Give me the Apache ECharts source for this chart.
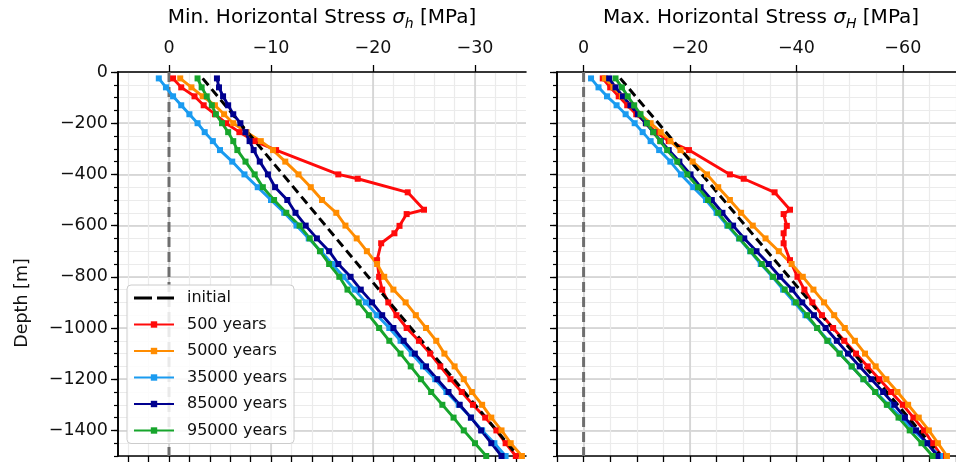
<!DOCTYPE html>
<html>
<head>
<meta charset="utf-8">
<script src="https://cdn.jsdelivr.net/npm/echarts@6/dist/echarts.min.js"></script>
<style>
  html, body { margin: 0; padding: 0; background: #fff; }
  #chart { width: 956px; height: 462px; }
</style>
</head>
<body>
<div id="chart"></div>
<script>
// ---- depth nodes [m] ----
const depths = [-25, -60, -95, -130, -165, -200, -235, -270, -305, -350, -400, -450, -500, -550, -600, -650,
  -700, -750, -800, -850, -900, -950, -1000, -1050, -1100, -1150, -1200, -1250, -1300, -1350, -1400, -1450, -1500];
const depths500 = [-25, -60, -95, -130, -165, -200, -235, -270, -305, -400, -417, -470, -538, -555, -601, -630,
  -669, -735, -800, -850, -900, -950, -1000, -1050, -1100, -1150, -1200, -1250, -1300, -1350, -1400, -1450, -1500];
const initialDepths = [-25, -1500];

// ---- minimum horizontal stress sigma_h [MPa] ----
const shInitial = [-3.3, -34.2];
const sh500 = [-0.4, -1.2, -2.5, -3.4, -4.5, -5.6, -6.9, -8.4, -10.5, -16.6, -18.5, -23.4, -25.0, -23.3, -22.6, -22.1,
  -20.8, -20.4, -20.6, -20.9, -21.5, -22.3, -23.3, -24.5, -25.6, -26.6, -27.6, -28.7, -29.8, -31.0, -32.1, -33.0, -34.0];
const sh5000 = [-1.1, -2.2, -3.3, -4.5, -5.4, -6.3, -7.6, -9.0, -10.2, -11.4, -12.7, -13.9, -15.0, -16.4, -17.3, -18.4,
  -19.4, -20.4, -21.1, -22.0, -23.2, -24.2, -25.2, -26.2, -27.0, -28.0, -28.9, -29.7, -30.7, -31.6, -32.6, -33.5, -34.6];
const sh35000 = [1.0, 0.3, -0.4, -1.2, -2.0, -2.8, -3.5, -4.3, -5.0, -6.2, -7.4, -8.7, -10.0, -11.3, -12.5, -13.7,
  -14.9, -16.0, -17.1, -18.2, -19.3, -20.4, -21.6, -22.7, -23.8, -24.9, -26.1, -27.2, -28.4, -29.6, -30.7, -31.9, -33.0];
const sh85000 = [-4.7, -4.9, -5.3, -5.8, -6.3, -7.0, -7.5, -7.9, -8.3, -8.9, -9.7, -10.4, -11.6, -12.4, -13.4, -14.5,
  -15.7, -16.6, -17.8, -18.8, -19.9, -20.9, -22.0, -23.0, -24.1, -25.2, -26.3, -27.4, -28.5, -29.6, -30.6, -31.6, -32.6];
const sh95000 = [-2.8, -3.2, -3.7, -4.2, -4.6, -5.2, -5.8, -6.3, -6.7, -7.5, -8.4, -9.2, -10.3, -11.5, -12.8, -13.8,
  -14.8, -15.7, -16.7, -17.5, -18.6, -19.6, -20.6, -21.6, -22.7, -23.7, -24.7, -25.7, -26.8, -27.9, -28.9, -30.0, -31.1];

// ---- maximum horizontal stress sigma_H [MPa] ----
const sHInitial = [-6.9, -67.2];
const sH500 = [-3.6, -5.0, -6.6, -8.2, -9.9, -11.8, -13.6, -16.0, -19.8, -27.5, -30.1, -35.9, -38.8, -37.6, -38.2, -37.6,
  -37.6, -38.8, -40.2, -41.5, -43.0, -44.8, -46.9, -49.0, -51.2, -53.4, -55.6, -57.8, -60.0, -62.0, -64.0, -65.6, -67.3];
const sH5000 = [-4.0, -5.6, -7.2, -8.9, -10.6, -12.6, -14.5, -16.3, -18.2, -20.5, -23.2, -25.3, -27.5, -29.6, -31.8, -34.2,
  -36.7, -39.1, -41.2, -43.2, -45.2, -47.1, -49.1, -51.0, -52.9, -54.9, -56.9, -59.0, -61.0, -63.0, -64.9, -66.6, -68.3];
const sH35000 = [-1.4, -2.8, -4.4, -6.2, -7.9, -9.6, -11.1, -12.6, -14.2, -16.3, -18.3, -20.6, -23.0, -25.0, -27.0, -29.2,
  -31.3, -33.3, -35.5, -37.5, -39.6, -41.7, -43.9, -46.0, -48.2, -50.4, -52.6, -54.9, -57.3, -59.7, -62.1, -64.5, -67.0];
const sH85000 = [-4.8, -6.0, -7.4, -8.8, -10.2, -11.7, -13.1, -14.5, -16.0, -18.0, -20.1, -22.0, -24.1, -26.1, -28.1, -30.2,
  -32.5, -34.8, -36.9, -39.2, -41.1, -43.3, -45.5, -47.6, -49.7, -51.9, -54.1, -56.3, -58.4, -60.4, -62.5, -64.6, -66.5];
const sH95000 = [-6.0, -7.2, -8.3, -9.5, -10.7, -11.9, -13.1, -14.4, -15.7, -17.6, -19.5, -21.5, -23.4, -25.3, -27.2, -29.3,
  -31.4, -33.5, -35.6, -37.8, -39.9, -42.0, -43.9, -45.8, -48.1, -50.4, -52.6, -54.8, -57.0, -59.2, -61.3, -63.5, -65.6];

// zero-stress reference line
const zeroStress = [0, 0];
const zeroDepth = [0, -1500];

// ---- axis ticks ----
const shMajorTicks = [0, -10, -20, -30];
const shMinorTicks = [4, 2, 0, -2, -4, -6, -8, -10, -12, -14, -16, -18, -20, -22, -24, -26, -28, -30, -32, -34];
const sHMajorTicks = [0, -20, -40, -60];
const depthTicks = [0, -200, -400, -600, -800, -1000, -1200, -1400];

const names = ['initial', '500 years', '5000 years', '35000 years', '85000 years', '95000 years'];
const colors = ['#000000', '#ff0a0a', '#ff8c00', '#1a9bf0', '#00008f', '#17a52c'];

const FONT = 'DejaVu Sans';
const minusFmt = v => (v === 0 ? '0' : (v < 0 ? '\u2212' : '') + Math.abs(v));

const MINOR = '#ebebeb';
const MAJOR = '#cfcfcf';
const axisLine = { show: true, onZero: false, lineStyle: { color: '#000', width: 1.6 } };

function xAxes(grid, min, minorTicks, minorInterval, majorTicks) {
  const bottom = {
    gridIndex: grid, type: 'value', position: 'bottom', min: min, max: 5, inverse: true,
    axisLine: axisLine,
    axisTick: { show: true, length: 6, lineStyle: { color: '#000', width: 1.3 } },
    axisLabel: { show: false },
    splitLine: { show: true, lineStyle: { color: MINOR, width: 1.2 } }
  };
  if (minorTicks) bottom.axisTick.customValues = minorTicks;
  else bottom.interval = minorInterval;
  const top = {
    gridIndex: grid, type: 'value', position: 'top', min: min, max: 5, inverse: true,
    axisLine: axisLine,
    axisTick: { show: true, length: 7, customValues: majorTicks, lineStyle: { color: '#000', width: 1.3 } },
    axisLabel: { show: true, customValues: majorTicks, formatter: minusFmt, margin: 15,
      fontFamily: FONT, fontSize: 17.5, color: '#111' },
    splitLine: { show: true, lineStyle: { color: MAJOR, width: 1.5 } }
  };
  return [bottom, top];
}

function yAxes(grid, labels) {
  return [{
    gridIndex: grid, type: 'value', position: 'left', min: -1500, max: 0, interval: 50,
    axisLine: axisLine,
    axisTick: { show: true, length: 4, lineStyle: { color: '#000', width: 1.2 } },
    axisLabel: { show: false },
    splitLine: { show: true, lineStyle: { color: MINOR, width: 1.2 } }
  }, {
    gridIndex: grid, type: 'value', position: 'left', min: -1500, max: 0,
    axisLine: axisLine,
    axisTick: { show: true, length: 7, customValues: depthTicks, lineStyle: { color: '#000', width: 1.3 } },
    axisLabel: { show: labels, customValues: depthTicks, formatter: minusFmt, margin: 10,
      fontFamily: FONT, fontSize: 17.5, color: '#111' },
    splitLine: { show: true, lineStyle: { color: MAJOR, width: 1.5 } }
  }];
}

function pairs(xs, ds) { return ds.map((d, i) => [xs[i], d]); }

function panelSeries(axisX, axisY, init, s500, s5000, s35000, s85000, s95000) {
  const base = (name, color, data) => ({
    name: name, type: 'line', xAxisIndex: axisX, yAxisIndex: axisY, data: data,
    symbol: 'rect', symbolSize: 6, showSymbol: true,
    lineStyle: { color: color, width: 2.9 }, itemStyle: { color: color },
    silent: true, animation: false
  });
  return [
    { name: 'zero', type: 'line', xAxisIndex: axisX, yAxisIndex: axisY, data: pairs(zeroStress, zeroDepth),
      symbol: 'none', lineStyle: { color: '#6e6e6e', width: 3, type: [10, 5] }, silent: true, animation: false },
    base(names[1], colors[1], pairs(s500, depths500)),
    base(names[2], colors[2], pairs(s5000, depths)),
    base(names[3], colors[3], pairs(s35000, depths)),
    base(names[4], colors[4], pairs(s85000, depths)),
    base(names[5], colors[5], pairs(s95000, depths)),
    { name: names[0], type: 'line', xAxisIndex: axisX, yAxisIndex: axisY, data: pairs(init, initialDepths),
      symbol: 'none', lineStyle: { color: colors[0], width: 3, type: [9, 5] }, itemStyle: { color: colors[0] },
      silent: true, animation: false }
  ];
}

const chart = echarts.init(document.getElementById('chart'), null, { renderer: 'canvas' });

const titleRich = {
  a: { fontFamily: FONT, fontSize: 20, lineHeight: 26, color: '#111' },
  s: { fontFamily: FONT, fontSize: 20, lineHeight: 26, fontStyle: 'italic', color: '#111' },
  b: { fontFamily: FONT, fontSize: 14, lineHeight: 16, fontStyle: 'italic', verticalAlign: 'bottom', color: '#111' }
};

const dashIcon = 'path://M0,0h0.01v0.01h-0.01z M40,8h-0.01v-0.01h0.01z M0,2.5h18v3h-18z M23,2.5h17v3h-17z';

chart.setOption({
  animation: false,
  backgroundColor: '#ffffff',
  grid: [
    { left: 118, top: 72, width: 408, height: 384, containLabel: false },
    { left: 557, top: 72, width: 408, height: 384, containLabel: false }
  ],
  xAxis: [].concat(
    xAxes(0, -35, shMinorTicks, null, shMajorTicks),
    xAxes(1, -70, null, 5, sHMajorTicks)
  ),
  yAxis: [].concat(yAxes(0, true), yAxes(1, false)),
  legend: {
    data: [{ name: names[0], icon: dashIcon }, names[1], names[2], names[3], names[4], names[5]],
    orient: 'vertical', left: 127, top: 285,
    itemWidth: 40, itemHeight: 8, itemGap: 10.5,
    padding: [5, 7, 5, 6],
    backgroundColor: 'rgba(255,255,255,0.85)', borderColor: '#cccccc', borderWidth: 1, borderRadius: 4,
    selectedMode: false,
    textStyle: { fontFamily: FONT, fontSize: 16, color: '#111', lineHeight: 16, padding: [0, 0, 0, 8] }
  },
  graphic: [
    { type: 'text', x: 322, y: 18, silent: true,
      style: { text: '{a|Min. Horizontal Stress }{s|σ}{b|h}{a| [MPa]}', rich: titleRich, align: 'center', verticalAlign: 'middle' } },
    { type: 'text', x: 761, y: 18, silent: true,
      style: { text: '{a|Max. Horizontal Stress }{s|σ}{b|H}{a| [MPa]}', rich: titleRich, align: 'center', verticalAlign: 'middle' } },
    { type: 'text', x: 22, y: 303, rotation: Math.PI / 2, silent: true,
      style: { text: 'Depth [m]', fontFamily: FONT, fontSize: 17.5, fill: '#111', align: 'center', verticalAlign: 'middle' } }
  ],
  series: [].concat(
    panelSeries(0, 0, shInitial, sh500, sh5000, sh35000, sh85000, sh95000),
    panelSeries(2, 2, sHInitial, sH500, sH5000, sH35000, sH85000, sH95000)
  )
});
</script>
</body>
</html>
